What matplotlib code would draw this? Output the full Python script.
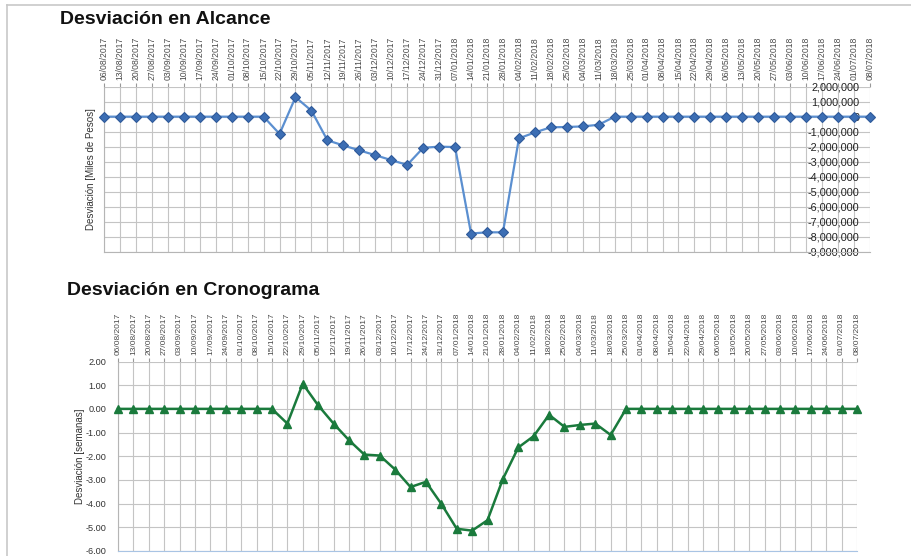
import matplotlib
matplotlib.use("Agg")
import matplotlib.pyplot as plt
from matplotlib.ticker import FuncFormatter, FixedLocator
from matplotlib.lines import Line2D

plt.rcParams['font.family'] = ['Liberation Sans', 'DejaVu Sans']

fechas = [
    "06/08/2017", "13/08/2017", "20/08/2017", "27/08/2017",
    "03/09/2017", "10/09/2017", "17/09/2017", "24/09/2017",
    "01/10/2017", "08/10/2017", "15/10/2017", "22/10/2017", "29/10/2017",
    "05/11/2017", "12/11/2017", "19/11/2017", "26/11/2017",
    "03/12/2017", "10/12/2017", "17/12/2017", "24/12/2017", "31/12/2017",
    "07/01/2018", "14/01/2018", "21/01/2018", "28/01/2018",
    "04/02/2018", "11/02/2018", "18/02/2018", "25/02/2018",
    "04/03/2018", "11/03/2018", "18/03/2018", "25/03/2018",
    "01/04/2018", "08/04/2018", "15/04/2018", "22/04/2018", "29/04/2018",
    "06/05/2018", "13/05/2018", "20/05/2018", "27/05/2018",
    "03/06/2018", "10/06/2018", "17/06/2018", "24/06/2018",
    "01/07/2018", "08/07/2018",
]

# Desviación en alcance [miles de pesos]
desv_alcance = [
    0, 0, 0, 0, 0, 0, 0, 0, 0, 0, 0,
    -1150000, 1300000, 400000, -1580000, -1920000, -2250000, -2570000,
    -2900000, -3220000, -2080000, -2000000, -2030000,
    -7800000, -7720000, -7720000, -1450000, -1050000, -710000, -690000,
    -650000, -540000,
    0, 0, 0, 0, 0, 0, 0, 0, 0, 0, 0, 0, 0, 0, 0, 0, 0,
]

# Desviación en cronograma [semanas]
desv_cronograma = [
    0, 0, 0, 0, 0, 0, 0, 0, 0, 0, 0,
    -0.62, 1.06, 0.15, -0.62, -1.32, -1.93, -1.97, -2.56, -3.30, -3.08,
    -4.01, -5.06, -5.14, -4.70, -2.96, -1.63, -1.15, -0.25, -0.76,
    -0.68, -0.62, -1.10,
    0, 0, 0, 0, 0, 0, 0, 0, 0, 0, 0, 0, 0, 0, 0, 0,
]

ticks_alcance = [2000000, 1000000, 0, -1000000, -2000000, -3000000, -4000000,
                 -5000000, -6000000, -7000000, -8000000, -9000000]
ticks_crono = [2.0, 1.0, 0.0, -1.0, -2.0, -3.0, -4.0, -5.0, -6.0]

W, H = 912, 556
fig = plt.figure(figsize=(W / 100, H / 100), dpi=100)


def rect(x0, y0, x1, y1):
    return [x0 / W, 1 - y1 / H, (x1 - x0) / W, (y1 - y0) / H]


# marco de la hoja
fig.add_artist(Line2D([7 / W, 7 / W], [0, 1 - 5 / H], color="#c8c8c8", lw=1.2))
fig.add_artist(Line2D([7 / W, 1], [1 - 5 / H, 1 - 5 / H], color="#c8c8c8", lw=1.2))

xs = list(range(len(fechas)))
grid_c = "#c4c4c4"
lbl_c = "#4a4a4a"

# ---------- Desviación en Alcance ----------
ax1 = fig.add_axes(rect(104, 86.7, 870, 251.5))
ax1.plot(xs, desv_alcance, color="#5b8fd0", lw=1.6, marker="D", ms=5,
         mfc="#3c6eb4", mec="#2f5a9a", mew=0.8, zorder=3, clip_on=False)
ax1.set_xlim(0, len(fechas) - 1)
ax1.set_ylim(-9000000, 2000000)
ax1.xaxis.set_major_locator(FixedLocator(xs))
ax1.set_xticklabels(fechas, rotation=90, fontsize=6.2, color=lbl_c)
ax1.tick_params(axis="x", top=True, bottom=False, labeltop=True,
                labelbottom=False, length=3, color="#999999", pad=2)
ax1.set_yticks(ticks_alcance)
ax1.yaxis.set_major_formatter(FuncFormatter(lambda v, p: f"{v:,.0f}"))
ax1.tick_params(axis="y", left=False, right=False, labelleft=False,
                labelright=True, labelsize=7.8, labelcolor="#222222", pad=-11)
for t in ax1.get_yticklabels():
    t.set_horizontalalignment("right")
ax1.grid(True, color=grid_c, lw=0.8)
for s in ["top", "right"]:
    ax1.spines[s].set_visible(False)
for s in ["left", "bottom"]:
    ax1.spines[s].set_color("#b5b5b5")
ax1.set_ylabel("Desviación [Miles de Pesos]", fontsize=7, color="#333333")
ax1.yaxis.set_label_coords(-8 / 766, 0.5)
fig.text(60 / W, 1 - 24 / H, "Desviación en Alcance", fontsize=14,
         fontweight="bold", ha="left", va="baseline", color="#111111")

# ---------- Desviación en Cronograma ----------
ax2 = fig.add_axes(rect(118, 361.5, 857, 551))
ax2.plot(xs, desv_cronograma, color="#1a7a3c", lw=1.8, marker="^", ms=5.5,
         mfc="#1a7a3c", mec="#1a7a3c", zorder=3, clip_on=False)
ax2.set_xlim(0, len(fechas) - 1)
ax2.set_ylim(-6, 2)
ax2.xaxis.set_major_locator(FixedLocator(xs))
ax2.set_xticklabels(fechas, rotation=90, fontsize=6.0, color=lbl_c)
ax2.tick_params(axis="x", top=True, bottom=False, labeltop=True,
                labelbottom=False, length=3, color="#999999", pad=2)
ax2.set_yticks(ticks_crono)
ax2.yaxis.set_major_formatter(FuncFormatter(lambda v, p: f"{v:.2f}"))
ax2.tick_params(axis="y", left=False, labelsize=6.6, labelcolor="#333333", pad=5)
ax2.grid(True, color=grid_c, lw=0.8)
for s in ["top", "right"]:
    ax2.spines[s].set_visible(False)
ax2.spines["left"].set_color("#b5b5b5")
ax2.spines["bottom"].set_color("#a9c4e4")
ax2.set_ylabel("Desviación [semanas]", fontsize=7, color="#333333")
ax2.yaxis.set_label_coords(-33 / 739, 0.5)
fig.text(67 / W, 1 - 295 / H, "Desviación en Cronograma", fontsize=14,
         fontweight="bold", ha="left", va="baseline", color="#111111")

fig.savefig("out.png", dpi=100)
